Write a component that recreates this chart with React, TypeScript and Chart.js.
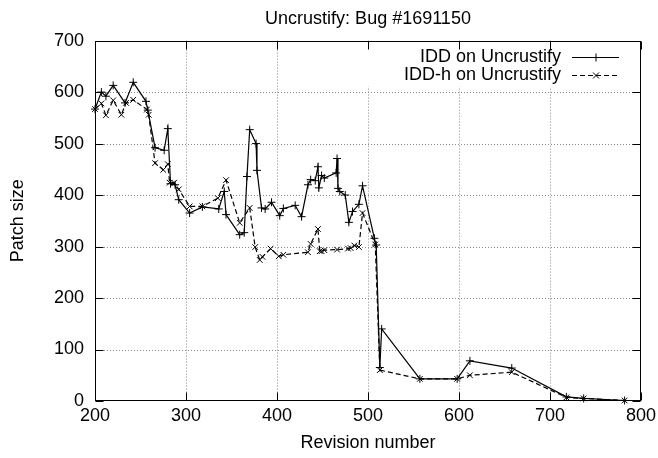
import React, { useEffect, useRef } from "react";
import { Chart, registerables } from "chart.js";

Chart.register(...registerables);

const TITLE = "Uncrustify: Bug #1691150";
const X_TITLE = "Revision number";
const Y_TITLE = "Patch size";
const IDD_LABEL = "IDD on Uncrustify";
const IDDH_LABEL = "IDD-h on Uncrustify";

const X_MIN = 200;
const X_MAX = 800;
const Y_MIN = 0;
const Y_MAX = 700;
const xTicks = [200, 300, 400, 500, 600, 700, 800];
const yTicks = [0, 100, 200, 300, 400, 500, 600, 700];

const iddRevisions = [
  200, 207, 212, 220, 233, 242, 256, 258, 266, 276,
  280, 283, 288, 292, 304, 318, 336, 342, 344, 359,
  364, 367, 370, 377, 378, 383, 387, 394, 403, 407,
  420, 427, 434, 437, 442, 445, 446, 449, 452, 465,
  466, 467, 469, 475, 479, 483, 490, 494, 507, 509,
  513, 515, 557, 598, 612, 658, 718, 737, 782,
];
const iddSizes = [
  567, 600, 592, 613, 579, 619, 582, 565, 492, 487,
  529, 422, 420, 391, 365, 377, 373, 407, 362, 323,
  327, 436, 527, 500, 448, 375, 373, 386, 360, 374,
  380, 358, 420, 430, 428, 455, 414, 438, 433, 443,
  471, 413, 407, 400, 347, 368, 382, 418, 316, 303,
  65, 140, 43, 43, 78, 64, 8, 5, 1,
];

const iddhRevisions = [
  200, 207, 212, 220, 229, 234, 242, 257, 259, 266,
  275, 280, 282, 287, 292, 304, 318, 335, 344, 359,
  370, 376, 381, 384, 393, 402, 407, 434, 437, 445,
  447, 449, 452, 466, 478, 481, 485, 490, 494, 508,
  513, 557, 598, 612, 658, 718, 737, 782,
];
const iddhSizes = [
  567, 578, 555, 584, 556, 579, 585, 566, 556, 462,
  449, 460, 424, 424, 411, 378, 378, 394, 429, 346,
  375, 299, 274, 280, 296, 281, 284, 289, 305, 334,
  291, 291, 293, 294, 296, 297, 302, 299, 365, 304,
  60, 43, 43, 50, 56, 7, 5, 1,
];

const FONT_FAMILY = '"Liberation Sans", Arial, Helvetica, sans-serif';
const FONT_SIZE = 18;

function toPoints(xs: number[], ys: number[]) {
  return xs.map((x, i) => ({ x, y: ys[i] }));
}

function drawMarker(ctx: CanvasRenderingContext2D, style: string, x: number, y: number) {
  ctx.beginPath();
  if (style === "cross") {
    ctx.moveTo(x - 4, y);
    ctx.lineTo(x + 4, y);
    ctx.moveTo(x, y - 4);
    ctx.lineTo(x, y + 4);
  } else {
    ctx.moveTo(x - 3, y - 3);
    ctx.lineTo(x + 3, y + 3);
    ctx.moveTo(x - 3, y + 3);
    ctx.lineTo(x + 3, y - 3);
  }
  ctx.stroke();
}

function legendBox(a: { top: number; right: number }) {
  return { left: a.right - 278, top: a.top + 1, width: 277, height: 45 };
}

const gnuplotPlugin = {
  id: "gnuplotFrame",
  beforeDatasetsDraw(chart: any) {
    const { ctx, chartArea: a, scales } = chart;
    const xs = scales.x;
    const ys = scales.y;
    ctx.save();
    ctx.strokeStyle = "#8a8a8a";
    ctx.lineWidth = 1;
    ctx.setLineDash([1, 2]);
    ctx.beginPath();
    xTicks.forEach((v) => {
      if (v <= X_MIN || v >= X_MAX) return;
      const px = Math.round(xs.getPixelForValue(v)) + 0.5;
      ctx.moveTo(px, a.top);
      ctx.lineTo(px, a.bottom);
    });
    yTicks.forEach((v) => {
      if (v <= Y_MIN || v >= Y_MAX) return;
      const py = Math.round(ys.getPixelForValue(v)) + 0.5;
      ctx.moveTo(a.left, py);
      ctx.lineTo(a.right, py);
    });
    ctx.stroke();
    ctx.setLineDash([]);
    const b = legendBox(a);
    ctx.fillStyle = "#ffffff";
    ctx.fillRect(b.left, b.top, b.width, b.height);
    ctx.restore();
  },
  afterDatasetsDraw(chart: any) {
    const { ctx, chartArea: a, scales } = chart;
    const xs = scales.x;
    const ys = scales.y;
    ctx.save();
    ctx.strokeStyle = "#000";
    ctx.lineWidth = 1;
    ctx.setLineDash([]);
    const L = Math.round(a.left) + 0.5;
    const R = Math.round(a.right) - 0.5;
    const T = Math.round(a.top) + 0.5;
    const B = Math.round(a.bottom) - 0.5;
    ctx.strokeRect(L, T, R - L, B - T);
    const tl = 8;
    ctx.beginPath();
    xTicks.forEach((v) => {
      const px = Math.round(xs.getPixelForValue(v)) + 0.5;
      ctx.moveTo(px, B);
      ctx.lineTo(px, B - tl);
      ctx.moveTo(px, T);
      ctx.lineTo(px, T + tl);
    });
    yTicks.forEach((v) => {
      const py = Math.round(ys.getPixelForValue(v)) + 0.5;
      ctx.moveTo(L, py);
      ctx.lineTo(L + tl, py);
      ctx.moveTo(R, py);
      ctx.lineTo(R - tl, py);
    });
    ctx.stroke();

    // key (legend)
    ctx.font = `${FONT_SIZE}px ${FONT_FAMILY}`;
    ctx.fillStyle = "#000";
    ctx.textAlign = "right";
    ctx.textBaseline = "middle";
    chart.data.datasets.forEach((ds: any, i: number) => {
      const y = Math.round(a.top + 16 + i * 18) + 0.5;
      ctx.fillText(ds.label, a.right - 80, y);
      ctx.lineWidth = 1.2;
      ctx.setLineDash(ds.borderDash || []);
      ctx.beginPath();
      ctx.moveTo(a.right - 69, y);
      ctx.lineTo(a.right - 22, y);
      ctx.stroke();
      ctx.setLineDash([]);
      ctx.lineWidth = 1;
      drawMarker(ctx, ds.pointStyle, a.right - 45, y);
    });
    ctx.restore();
  },
};

export default function App() {
  const ref = useRef<HTMLCanvasElement | null>(null);

  useEffect(() => {
    if (!ref.current) return;
    Chart.defaults.font.family = FONT_FAMILY;
    Chart.defaults.font.size = FONT_SIZE;
    Chart.defaults.color = "#000";
    const chart = new Chart(ref.current, {
      type: "line",
      data: {
        datasets: [
          {
            label: IDD_LABEL,
            data: toPoints(iddRevisions, iddSizes),
            borderColor: "#000",
            backgroundColor: "#000",
            borderWidth: 1.2,
            pointStyle: "cross",
            pointRadius: 4,
            pointBorderWidth: 1,
            pointBorderColor: "#000",
            pointHoverRadius: 4,
            tension: 0,
            fill: false,
            clip: false as any,
          },
          {
            label: IDDH_LABEL,
            data: toPoints(iddhRevisions, iddhSizes),
            borderColor: "#000",
            backgroundColor: "#000",
            borderWidth: 1.2,
            borderDash: [5, 3],
            pointStyle: "crossRot",
            pointRadius: 4,
            pointBorderWidth: 1,
            pointBorderColor: "#000",
            pointHoverRadius: 4,
            tension: 0,
            fill: false,
            clip: false as any,
          },
        ],
      },
      options: {
        animation: false,
        responsive: false,
        devicePixelRatio: 1,
        events: [],
        layout: { padding: { left: 0, right: 17, top: 0, bottom: 0 } },
        plugins: {
          legend: { display: false },
          tooltip: { enabled: false },
          title: {
            display: true,
            fullSize: false,
            text: TITLE,
            color: "#000",
            font: { size: FONT_SIZE, weight: "normal", family: FONT_FAMILY },
            padding: { top: 8, bottom: 11 },
          },
        },
        scales: {
          x: {
            type: "linear",
            min: X_MIN,
            max: X_MAX,
            grid: { display: false, drawTicks: false },
            border: { display: false },
            ticks: {
              stepSize: 100,
              padding: 4,
              color: "#000",
              maxRotation: 0,
              font: { size: FONT_SIZE, family: FONT_FAMILY },
            },
            title: {
              display: true,
              text: X_TITLE,
              color: "#000",
              font: { size: FONT_SIZE, family: FONT_FAMILY },
              padding: { top: 0, bottom: 4 },
            },
            afterFit(scale: any) {
              scale.height = 57;
              scale.paddingLeft = 0;
              scale.paddingRight = 0;
            },
          },
          y: {
            type: "linear",
            min: Y_MIN,
            max: Y_MAX,
            grid: { display: false, drawTicks: false },
            border: { display: false },
            ticks: {
              stepSize: 100,
              padding: 11,
              color: "#000",
              font: { size: FONT_SIZE, family: FONT_FAMILY },
            },
            title: {
              display: true,
              text: Y_TITLE,
              color: "#000",
              font: { size: FONT_SIZE, family: FONT_FAMILY },
              padding: { top: 7, bottom: 0 },
            },
            afterFit(scale: any) {
              scale.width = 95;
              scale.paddingTop = 0;
              scale.paddingBottom = 0;
            },
          },
        },
      },
      plugins: [gnuplotPlugin],
    } as any);
    return () => chart.destroy();
  }, []);

  return (
    <div style={{ position: "fixed", left: 0, top: 0, width: 658, height: 458, background: "#fff" }}>
      <canvas ref={ref} width={658} height={458} style={{ display: "block" }} />
    </div>
  );
}
